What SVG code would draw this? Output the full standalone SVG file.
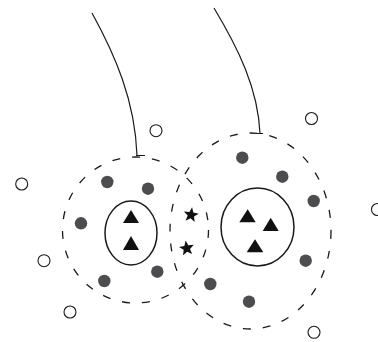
<svg xmlns="http://www.w3.org/2000/svg" width="378" height="342" viewBox="0 0 378 342">
<style>
.line{fill:none;stroke:#1a1a1a;stroke-width:1.2}
.dash{fill:none;stroke:#1a1a1a;stroke-width:1.3;stroke-dasharray:8 12}
.solid{fill:none;stroke:#1a1a1a;stroke-width:1.5}
.dot{fill:#4d4d4f}
.hollow{fill:#fff;stroke:#1a1a1a;stroke-width:1.1}
.tri{fill:#111}
.star{fill:#111}
</style>
<defs>
<polygon id="star" transform="scale(1.12)" points="0,-7 1.76,-2.43 6.66,-2.16 2.85,0.93 4.11,5.66 0,3 -4.11,5.66 -2.85,0.93 -6.66,-2.16 -1.76,-2.43"/>
</defs>
<g id="connectors">
<path class="line" d="M92,13 C115,55 135,100 137,155.5 M136,155.5 L145,155.5"/>
<path class="line" d="M214,8 C238,48 258,88 260,133.5 M256,133.5 L263,133.5"/>
</g>
<g id="left-cell">
<circle class="dash" cx="135.5" cy="230" r="73"/>
<ellipse class="solid" cx="131" cy="233" rx="26" ry="32"/>
<polygon class="tri" points="131,210 139,223 123,223"/>
<polygon class="tri" points="131,236 139,250 123,250"/>
<circle class="dot" cx="107.3" cy="182" r="6.2"/>
<circle class="dot" cx="148" cy="188.7" r="6.2"/>
<circle class="dot" cx="81" cy="223.3" r="6.2"/>
<circle class="dot" cx="157.3" cy="271.7" r="6.2"/>
<circle class="dot" cx="104.3" cy="281" r="6.2"/>
</g>
<g id="right-cell">
<ellipse class="dash" cx="250.5" cy="231" rx="80.5" ry="98"/>
<ellipse class="solid" cx="257.5" cy="227" rx="36.5" ry="39"/>
<polygon class="tri" points="247.7,209.3 255.7,222.3 239.3,222.3"/>
<polygon class="tri" points="270.7,217.7 278.7,231 262.7,231"/>
<polygon class="tri" points="255,239.3 263.3,252.3 246.7,252.3"/>
<circle class="dot" cx="242.3" cy="157.7" r="6.2"/>
<circle class="dot" cx="282.3" cy="176.7" r="6.2"/>
<circle class="dot" cx="313.7" cy="201" r="6.2"/>
<circle class="dot" cx="305.7" cy="260.7" r="6.2"/>
<circle class="dot" cx="210.3" cy="284" r="6.2"/>
<circle class="dot" cx="249" cy="301.7" r="6.2"/>
</g>
<g id="stars">
<use href="#star" class="star" transform="translate(191,215) rotate(8)"/>
<use href="#star" class="star" transform="translate(186.7,248.3) rotate(-8)"/>
</g>
<g id="hollow">
<circle class="hollow" cx="156" cy="130.7" r="6"/>
<circle class="hollow" cx="311.5" cy="118.5" r="6"/>
<circle class="hollow" cx="21.7" cy="184" r="6"/>
<circle class="hollow" cx="377.5" cy="209.5" r="6"/>
<circle class="hollow" cx="44" cy="260.7" r="6"/>
<circle class="hollow" cx="70" cy="312" r="6"/>
<circle class="hollow" cx="314" cy="332.3" r="6"/>
</g>
</svg>
